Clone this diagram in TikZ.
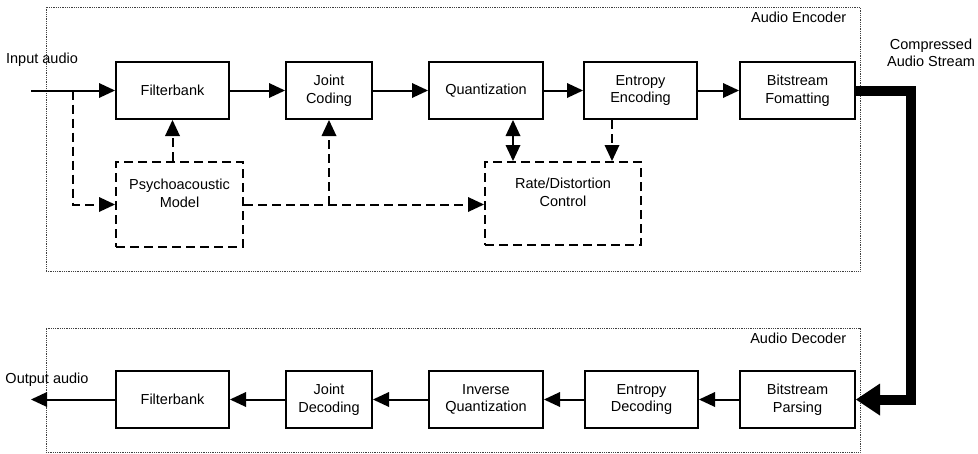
\documentclass[tikz,border=0pt]{standalone}
\usepackage{fontspec}
\setmainfont{Liberation Sans}
\usetikzlibrary{arrows.meta,positioning}

\begin{document}
\begin{tikzpicture}[
  x=1pt, y=-1pt,
  font=\fontsize{14.5}{17.5}\selectfont,
  blk/.style={rectangle, draw, line width=2pt, align=center, minimum height=57pt, inner sep=0pt},
  dblk/.style={blk, dash pattern=on 9pt off 5pt, text depth=23pt},
  frm/.style={rectangle, draw=black!75, densely dotted, line width=0.8pt, inner sep=0pt},
  arr/.style={-{Triangle[length=16pt,width=15pt,line width=0pt]}, line width=2pt},
  darr/.style={arr, dash pattern=on 9pt off 5pt},
  stream/.style={-{Triangle[length=24pt,width=32pt,line width=0pt]}, line width=10pt}
]
\useasboundingbox (0,0) rectangle (978,453);

% encoder / decoder frames
\node[frm, minimum width=814pt, minimum height=264pt,
  label={[anchor=north east, inner sep=0pt, xshift=-14pt, yshift=-5pt]north east:Audio Encoder}] (enc) at (453,139) {};
\node[frm, minimum width=814pt, minimum height=124pt,
  label={[anchor=north east, inner sep=0pt, xshift=-14pt, yshift=-5pt]north east:Audio Decoder}] (dec) at (453,390) {};

% encoder row
\node[blk, minimum width=113pt] (fb) at (172.5,90.5) {Filterbank};
\node[blk, minimum width=86pt, right=55pt of fb] (jc) {Joint\\Coding};
\node[blk, minimum width=114pt, right=55pt of jc] (qz) {Quantization};
\node[blk, minimum width=113pt, right=39pt of qz] (ee) {Entropy\\Encoding};
\node[blk, minimum width=115pt, right=41pt of ee] (bsf) {Bitstream\\Fomatting};

\node[dblk, minimum width=127pt, minimum height=85pt, below=41pt of fb.south west, anchor=north west] (psy) {Psychoacoustic\\Model};
\node[dblk, minimum width=156pt, minimum height=83pt, below right=41pt and 56pt of qz.south west] (rd) {Rate/Distortion\\Control};

% decoder row
\node[blk, minimum width=113pt, below=250pt of fb] (fb2) {Filterbank};
\node[blk, minimum width=86pt, right=55pt of fb2] (jd) {Joint\\Decoding};
\node[blk, minimum width=114pt, right=55pt of jd] (iq) {Inverse\\Quantization};
\node[blk, minimum width=113pt, right=40pt of iq] (ed) {Entropy\\Decoding};
\node[blk, minimum width=115pt, right=40pt of ed] (bsp) {Bitstream\\Parsing};

\coordinate[left=84pt of fb.west] (in);
\coordinate[left=84pt of fb2.west] (out);
\coordinate[right=42pt of in] (tap);

\node (inlbl) at (42,60) {Input audio};
\node (outlbl) at (47,380) {Output audio};
\node[align=center] (cas) at (931,53) {Compressed\\Audio Stream};

\draw[arr] (in) -- (fb);
\draw[arr] (fb) -- (jc);
\draw[arr] (jc) -- (qz);
\draw[arr] (qz) -- (ee);
\draw[arr] (ee) -- (bsf);
\draw[stream] (bsf.east) -- ++(55pt,0) |- (bsp.east);
\draw[arr] (bsp) -- (ed);
\draw[arr] (ed) -- (iq);
\draw[arr] (iq) -- (jd);
\draw[arr] (jd) -- (fb2);
\draw[arr] (fb2) -- (out);

% side information (dashed)
\draw[darr] (tap) |- (psy.west);
\draw[darr] (fb.south |- psy.north) -- (fb.south);
\draw[darr] (psy.east) -- (psy.east -| rd.west);
\draw[darr] (psy.east -| jc.south) -- (jc.south);
\draw[darr, {Triangle[length=16pt,width=15pt,line width=0pt]}-{Triangle[length=16pt,width=15pt,line width=0pt]}] ([xshift=85pt]qz.south west) -- ([xshift=85pt]qz.south west |- rd.north);
\draw[darr] ([xshift=29pt]ee.south west) -- ([xshift=29pt]ee.south west |- rd.north);
\end{tikzpicture}
\end{document}
